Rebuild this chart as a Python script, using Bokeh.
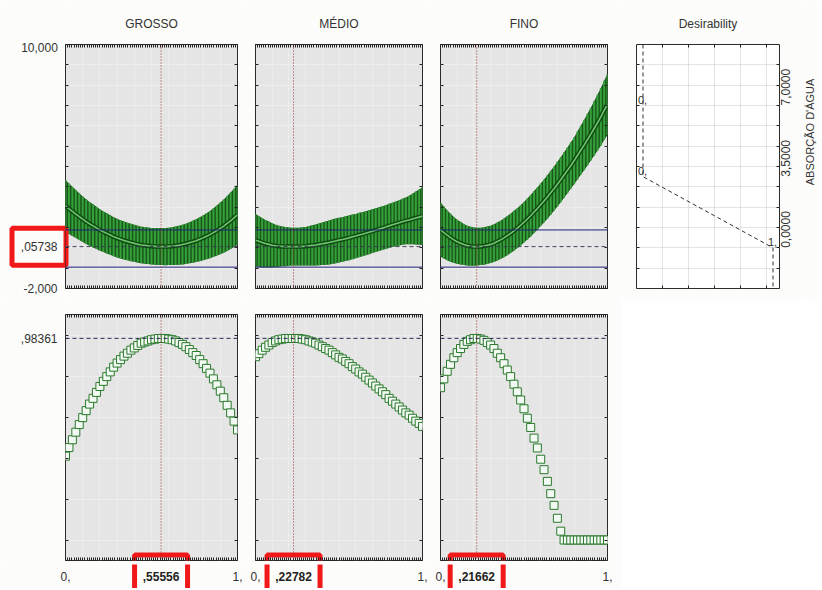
import numpy as np
from bokeh.plotting import figure
from bokeh.layouts import column, row
from bokeh.models import (ColumnDataSource, Range1d, LinearAxis, FixedTicker, Grid, Span, Label, Title)
from bokeh.embed import file_html
from bokeh.resources import INLINE

# ---------------- data ----------------
FACTORS = ["GROSSO", "MÉDIO", "FINO"]
DESIR_TITLE = "Desirability"
RESPONSE_NAME = "ABSORÇÃO D'ÁGUA"

X_LEVELS = [0.00, 0.02, 0.04, 0.06, 0.08, 0.10, 0.12, 0.14, 0.16, 0.18, 0.20,
            0.22, 0.24, 0.26, 0.28, 0.30, 0.32, 0.34, 0.36, 0.38, 0.40,
            0.42, 0.44, 0.46, 0.48, 0.50, 0.52, 0.54, 0.56, 0.58, 0.60,
            0.62, 0.64, 0.66, 0.68, 0.70, 0.72, 0.74, 0.76, 0.78, 0.80,
            0.82, 0.84, 0.86, 0.88, 0.90, 0.92, 0.94, 0.96, 0.98, 1.00]

# predicted ABSORÇÃO D'ÁGUA along each factor
GROSSO_PRED = [2.07, 1.92, 1.79, 1.66, 1.53, 1.41, 1.29, 1.18, 1.08, 0.98, 0.88,
               0.79, 0.71, 0.63, 0.55, 0.48, 0.42, 0.36, 0.31, 0.26, 0.22,
               0.18, 0.14, 0.12, 0.10, 0.08, 0.07, 0.06, 0.06, 0.06, 0.07,
               0.08, 0.10, 0.13, 0.16, 0.20, 0.25, 0.30, 0.35, 0.42, 0.49,
               0.57, 0.65, 0.75, 0.85, 0.96, 1.07, 1.20, 1.33, 1.47, 1.62]
MEDIO_PRED = [0.37, 0.32, 0.26, 0.21, 0.17, 0.13, 0.10, 0.08, 0.07, 0.06, 0.06,
              0.06, 0.06, 0.06, 0.07, 0.08, 0.10, 0.12, 0.14, 0.17, 0.20,
              0.23, 0.26, 0.30, 0.34, 0.38, 0.41, 0.45, 0.49, 0.54, 0.58,
              0.63, 0.67, 0.72, 0.77, 0.82, 0.87, 0.92, 0.97, 1.02, 1.08,
              1.13, 1.18, 1.23, 1.28, 1.33, 1.37, 1.42, 1.47, 1.51, 1.56]
FINO_PRED = [0.90, 0.75, 0.62, 0.50, 0.39, 0.30, 0.23, 0.16, 0.11, 0.08, 0.06,
             0.06, 0.07, 0.09, 0.13, 0.17, 0.23, 0.31, 0.39, 0.49, 0.60,
             0.71, 0.84, 0.97, 1.11, 1.26, 1.42, 1.58, 1.76, 1.93, 2.12,
             2.30, 2.50, 2.71, 2.91, 3.13, 3.35, 3.58, 3.81, 4.04, 4.28,
             4.54, 4.80, 5.05, 5.32, 5.59, 5.87, 6.15, 6.44, 6.76, 7.05]

# half width of the confidence interval
GROSSO_CI = [1.27, 1.24, 1.21, 1.18, 1.15, 1.12, 1.10, 1.08, 1.06, 1.04, 1.02,
             1.00, 0.99, 0.97, 0.96, 0.95, 0.94, 0.93, 0.92, 0.92, 0.91,
             0.91, 0.90, 0.90, 0.90, 0.90, 0.90, 0.91, 0.91, 0.92, 0.92,
             0.93, 0.95, 0.96, 0.98, 0.99, 1.01, 1.03, 1.05, 1.08, 1.10,
             1.13, 1.16, 1.20, 1.23, 1.27, 1.31, 1.35, 1.39, 1.43, 1.47]
MEDIO_CI = [1.29, 1.25, 1.21, 1.16, 1.12, 1.08, 1.04, 1.01, 0.98, 0.96, 0.94,
            0.93, 0.93, 0.93, 0.94, 0.95, 0.97, 0.99, 1.01, 1.03, 1.05,
            1.07, 1.08, 1.09, 1.10, 1.10, 1.10, 1.10, 1.10, 1.10, 1.09,
            1.09, 1.08, 1.08, 1.08, 1.08, 1.08, 1.08, 1.08, 1.08, 1.09,
            1.09, 1.10, 1.11, 1.13, 1.15, 1.19, 1.24, 1.30, 1.36, 1.42]
FINO_CI = [1.33, 1.28, 1.23, 1.18, 1.13, 1.08, 1.05, 1.01, 0.98, 0.96, 0.94,
           0.93, 0.92, 0.92, 0.92, 0.92, 0.93, 0.93, 0.94, 0.95, 0.96,
           0.97, 0.98, 0.98, 0.99, 1.00, 1.01, 1.02, 1.03, 1.04, 1.05,
           1.06, 1.07, 1.08, 1.09, 1.10, 1.11, 1.12, 1.13, 1.14, 1.15,
           1.18, 1.21, 1.24, 1.27, 1.30, 1.34, 1.38, 1.42, 1.46, 1.50]

# overall desirability along each factor
GROSSO_DESIR = [0.409, 0.451, 0.489, 0.526, 0.563, 0.597, 0.631, 0.663, 0.691, 0.720, 0.749,
                0.774, 0.797, 0.820, 0.843, 0.863, 0.880, 0.897, 0.911, 0.926, 0.937,
                0.949, 0.960, 0.966, 0.971, 0.977, 0.980, 0.983, 0.983, 0.983, 0.980,
                0.977, 0.971, 0.963, 0.954, 0.943, 0.929, 0.914, 0.900, 0.880, 0.860,
                0.837, 0.814, 0.786, 0.757, 0.726, 0.694, 0.657, 0.620, 0.580, 0.537]
MEDIO_DESIR = [0.894, 0.909, 0.926, 0.940, 0.951, 0.963, 0.971, 0.977, 0.980, 0.983, 0.983,
               0.983, 0.983, 0.983, 0.980, 0.977, 0.971, 0.966, 0.960, 0.951, 0.943,
               0.934, 0.926, 0.914, 0.903, 0.891, 0.883, 0.871, 0.860, 0.846, 0.834,
               0.820, 0.809, 0.794, 0.780, 0.766, 0.751, 0.737, 0.723, 0.709, 0.691,
               0.677, 0.663, 0.649, 0.634, 0.620, 0.609, 0.594, 0.580, 0.569, 0.554]
FINO_DESIR = [0.743, 0.786, 0.823, 0.857, 0.889, 0.914, 0.934, 0.954, 0.969, 0.977, 0.983,
              0.983, 0.980, 0.974, 0.963, 0.951, 0.934, 0.911, 0.889, 0.860, 0.829,
              0.797, 0.760, 0.723, 0.683, 0.640, 0.594, 0.549, 0.497, 0.449, 0.394,
              0.343, 0.286, 0.226, 0.169, 0.106, 0.043, 0.0, 0.0, 0.0, 0.0,
              0.0, 0.0, 0.0, 0.0, 0.0, 0.0, 0.0, 0.0, 0.0, 0.0]

CURRENT_X = [0.55556, 0.22782, 0.21662]
CURRENT_X_TEXT = [",55556", ",22782", ",21662"]
CURRENT_PRED = 0.05738
CURRENT_PRED_TEXT = ",05738"
CURRENT_CI = [-0.95, 0.88]
CURRENT_DESIR = 0.98361
CURRENT_DESIR_TEXT = ",98361"

# desirability function of the response
DF_RESPONSE = [10.0, 7.0, 3.5, 0.0, -2.0]
DF_DESIR = [0.0, 0.0, 0.0, 1.0, 1.0]
DF_POINT_RESPONSE = [7.0, 3.5, 0.0]
DF_POINT_DESIR = [0.0, 0.0, 1.0]
DF_POINT_TEXT = ["0,", "0,", "1,"]
DF_AXIS_TICKS = [0.0, 3.5, 7.0]
DF_AXIS_TEXT = ["0,0000", "3,5000", "7,0000"]
RESPONSE_LABEL_AT = 5.7

TOP_RANGE = (-2.0, 10.0)
TOP_TICKS = [-2, -1, 0, 1, 2, 3, 4, 5, 6, 7, 8, 9, 10]
TOP_MAX_TEXT = "10,000"
TOP_MIN_TEXT = "-2,000"
BOT_RANGE = (-0.1, 1.1)
BOT_TICKS = [0.0, 0.2, 0.4, 0.6, 0.8, 1.0]
X_END_TEXT = {0.0: "0,", 1.0: "1,"}

# ---------------- style / geometry (pixels) ----------------
FONT = "Liberation Sans"
TXT = "#333333"
PAGE_BG = "#fcfcfa"
PANEL_BG = "#e5e5e5"
TICK = "#222222"
RED = "#f01818"
DENSE = [round(i * 0.0125, 4) for i in range(81)]

TOP_BT, TOP_FH, TOP_BB = 44, 244, 12
BOT_BT, BOT_FH, BOT_BB = 14, 246, 4
STRIP_H = 24
STRIP_TEXT_DOWN = 12
LAB_W = 65
LAB_TICK_TOP = -26   # centre of the "10,000" text, px left of the panel edge
LAB_TICK_BOT = -25
TOP_COLS = [(0, 172, 9), (9, 167, 9), (9, 167, 14)]
BOT_COLS = [(65, 172, 9), (9, 167, 9), (9, 167, 14)]
RIGHT_W = 18
LEFT_BOX = dict(cx=-26.5, w=54, h=37)     # red frame round the predicted value
BOTTOM_BOX = dict(w=53, h=43)             # red frames round the current settings
BOX_LINE = 5

PRED_LISTS = [GROSSO_PRED, MEDIO_PRED, FINO_PRED]
CI_LISTS = [GROSSO_CI, MEDIO_CI, FINO_CI]
DESIR_LISTS = [GROSSO_DESIR, MEDIO_DESIR, FINO_DESIR]


def make_fig(bl, fw, br, bt, fh, bb, xr, yr, bg, outline="#2b2b2b", title=None):
    p = figure(frame_width=fw, frame_height=fh, x_range=Range1d(*xr), y_range=Range1d(*yr),
               min_border_left=bl, min_border_right=br, min_border_top=bt, min_border_bottom=bb,
               x_axis_location=None, y_axis_location=None, toolbar_location=None,
               output_backend="svg", title=None, background_fill_color=bg,
               border_fill_color=PAGE_BG, outline_line_color=outline, outline_line_width=1)
    p.xgrid.visible = False
    p.ygrid.visible = False
    if title:
        p.title = Title(text=title, align="center", text_font=FONT, text_font_size="12px",
                        text_font_style="normal", text_color=TXT, standoff=28)
    return p


def axis(ticks, labels=None, minor=None, standoff=0, tick_in=3, fs="12px", **kw):
    ov = {t: "" for t in ticks}
    if labels:
        ov.update(labels)
    return LinearAxis(ticker=FixedTicker(ticks=ticks, minor_ticks=minor or []),
                      major_label_overrides=ov, major_tick_in=tick_in, major_tick_out=0,
                      minor_tick_in=3, minor_tick_out=0, axis_line_color=None,
                      major_tick_line_color=TICK, minor_tick_line_color=TICK,
                      major_label_standoff=standoff, major_label_text_font=FONT,
                      major_label_text_font_size=fs, major_label_text_color=TXT, **kw)


def text(x, y, t, **kw):
    opts = dict(text_font=FONT, text_font_size="12px", text_color=TXT,
                text_baseline="middle", text_align="center")
    opts.update(kw)
    return Label(x=x, y=y, text=t, **opts)


def red_frame(p, x, y, w, h):
    p.rect(x=[x], y=[y], width=w, height=h, width_units="screen", height_units="screen",
           fill_alpha=0, line_color=RED, line_width=BOX_LINE)


def mesh(p, yticks):
    p.add_layout(Grid(dimension=1, ticker=FixedTicker(ticks=yticks), grid_line_color="#f7f7f7",
                      grid_line_dash="1 1", grid_line_width=1))
    p.add_layout(Grid(dimension=0, ticker=FixedTicker(ticks=[0.1, 0.2, 0.3, 0.4, 0.5, 0.6, 0.7, 0.8, 0.9]),
                      grid_line_color="#f3f3f3", grid_line_dash="1 1", grid_line_width=1))


# ---------- left label column of the top row (x in px left of the panel edge) ----------
lab = make_fig(0, LAB_W, 0, TOP_BT, TOP_FH, TOP_BB, (-LAB_W, 0), TOP_RANGE, PAGE_BG, outline=None)
lab.add_layout(axis([LAB_TICK_TOP], {LAB_TICK_TOP: TOP_MAX_TEXT}, standoff=-7, tick_in=0), "above")
lab.add_layout(axis([LAB_TICK_BOT], {LAB_TICK_BOT: TOP_MIN_TEXT}, standoff=-5, tick_in=0), "below")
lab.add_layout(text(-8, CURRENT_PRED, CURRENT_PRED_TEXT, text_align="right"))
red_frame(lab, LEFT_BOX["cx"], CURRENT_PRED, LEFT_BOX["w"], LEFT_BOX["h"])

top_figs, bot_figs, strips = [lab], [], []
for i, name in enumerate(FACTORS):
    bl, fw, br = TOP_COLS[i]
    # ---------- top: predicted response ----------
    p = make_fig(bl, fw, br, TOP_BT, TOP_FH, TOP_BB, (0, 1), TOP_RANGE, PANEL_BG, title=name)
    mesh(p, TOP_TICKS)
    pred, ci = PRED_LISTS[i], CI_LISTS[i]
    src = ColumnDataSource(dict(x=X_LEVELS, c=pred,
                                lo=[c - h for c, h in zip(pred, ci)],
                                hi=[c + h for c, h in zip(pred, ci)]))
    p.varea(x="x", y1="lo", y2="hi", source=src, fill_color="#18561a")
    p.segment(x0="x", y0="lo", x1="x", y1="hi", source=src, line_color="#36a03a", line_width=2)
    p.line("x", "c", source=src, line_color="#0d4a0f", line_width=4.5)
    p.line("x", "c", source=src, line_color="#6fc46f", line_width=1.6)
    p.add_layout(Span(location=CURRENT_CI[1], dimension="width", line_color="#20207a", line_width=1))
    p.add_layout(Span(location=CURRENT_CI[0], dimension="width", line_color="#20207a", line_width=1))
    p.add_layout(Span(location=CURRENT_PRED, dimension="width", line_color="#3a3a5a",
                      line_dash="4 3", line_width=1))
    p.add_layout(Span(location=CURRENT_X[i], dimension="height", line_color="#9a3434",
                      line_dash="1 2", line_width=1))
    p.add_layout(axis([], minor=DENSE, fs="0px"), "above")
    p.add_layout(axis([], minor=DENSE, fs="0px"), "below")
    p.add_layout(axis(TOP_TICKS, fs="0px"), "left")
    p.add_layout(axis(TOP_TICKS, fs="0px"), "right")
    if i == 0:
        # the part of the red frame that overlaps the panel
        red_frame(p, LEFT_BOX["cx"] / fw, CURRENT_PRED, LEFT_BOX["w"], LEFT_BOX["h"])
    top_figs.append(p)

    # ---------- bottom: desirability ----------
    bl, fw, br = BOT_COLS[i]
    q = make_fig(bl, fw, br, BOT_BT, BOT_FH, BOT_BB, (0, 1), BOT_RANGE, PANEL_BG)
    mesh(q, BOT_TICKS)
    dsrc = ColumnDataSource(dict(x=X_LEVELS, d=DESIR_LISTS[i]))
    q.add_layout(Span(location=CURRENT_DESIR, dimension="width", line_color="#2a2a5a",
                      line_dash="4 3", line_width=1))
    q.add_layout(Span(location=CURRENT_X[i], dimension="height", line_color="#9a3434",
                      line_dash="1 2", line_width=1))
    q.scatter("x", "d", source=dsrc, marker="square", size=8, fill_color="#f2f8f2",
              line_color="#2a7a2c", line_width=1)
    q.add_layout(axis([], minor=DENSE, fs="0px"), "above")
    q.add_layout(axis([], minor=DENSE, fs="0px"), "below")
    if i == 0:
        q.add_layout(axis(BOT_TICKS + [CURRENT_DESIR], {CURRENT_DESIR: CURRENT_DESIR_TEXT},
                          standoff=8), "left")
    else:
        q.add_layout(axis(BOT_TICKS, fs="0px"), "left")
    q.add_layout(axis(BOT_TICKS, fs="0px"), "right")
    # upper part of the red frame (inside the panel)
    units_per_px = (BOT_RANGE[1] - BOT_RANGE[0]) / BOT_FH
    red_frame(q, CURRENT_X[i], BOT_RANGE[0] - (BOT_BB + STRIP_TEXT_DOWN) * units_per_px,
              BOTTOM_BOX["w"], BOTTOM_BOX["h"])
    bot_figs.append(q)

    # ---------- strip under the bottom row: x labels ----------
    total = bl + fw + br
    s = make_fig(0, total, 0, 0, STRIP_H, 0, (-bl / fw, 1 + br / fw), (0, 1), PAGE_BG, outline=None)
    for v, t in X_END_TEXT.items():
        s.add_layout(text(v, 1, t, y_offset=-STRIP_TEXT_DOWN))
    s.add_layout(text(CURRENT_X[i], 1, CURRENT_X_TEXT[i], y_offset=-STRIP_TEXT_DOWN,
                      text_font_style="bold", text_color="#222222"))
    red_frame(s, CURRENT_X[i], 1 - STRIP_TEXT_DOWN / STRIP_H, BOTTOM_BOX["w"], BOTTOM_BOX["h"])
    strips.append(s)

# ---------- desirability function panel ----------
d = make_fig(15, 143, 21, TOP_BT, TOP_FH, TOP_BB, (-0.05, 1.05), TOP_RANGE, "#ffffff",
             title=DESIR_TITLE)
DX_GRID = [0.15, 0.35, 0.55, 0.75, 0.95]
DY_GRID = [-1, 0, 1, 2, 3, 4, 5, 6, 7, 8, 9]
d.add_layout(Grid(dimension=0, ticker=FixedTicker(ticks=DX_GRID), grid_line_color="#c8c8c8",
                  grid_line_dash="1 1"))
d.add_layout(Grid(dimension=1, ticker=FixedTicker(ticks=DY_GRID), grid_line_color="#c8c8c8",
                  grid_line_dash="1 1"))
d.line(DF_DESIR, DF_RESPONSE, line_color="#333333", line_dash="4 3", line_width=1)
for dx, dy, t in zip(DF_POINT_DESIR, DF_POINT_RESPONSE, DF_POINT_TEXT):
    d.add_layout(text(dx, dy, t, x_offset=-5, y_offset=2, text_align="left",
                      text_baseline="bottom", text_font_size="11px"))
d.add_layout(axis([], minor=DX_GRID, fs="0px"), "above")
d.add_layout(axis([], minor=DX_GRID, fs="0px"), "below")
d.add_layout(axis([], minor=DY_GRID, fs="0px"), "left")
d.add_layout(axis(DF_AXIS_TICKS, dict(zip(DF_AXIS_TICKS, DF_AXIS_TEXT)), minor=DY_GRID,
                  standoff=6, tick_in=0, major_label_orientation=np.pi / 2), "right")
top_figs.append(d)

# ---------- right column: response name ----------
e = make_fig(0, RIGHT_W, 0, TOP_BT, TOP_FH, TOP_BB, (0, 1), TOP_RANGE, PAGE_BG, outline=None)
e.add_layout(text(0.5, RESPONSE_LABEL_AT, RESPONSE_NAME, angle=np.pi / 2, text_font_size="11px"))
top_figs.append(e)

layout = column(row(*top_figs), row(*bot_figs), row(*strips))
open("out.html", "w").write(file_html(layout, INLINE, title="Desirability profile"))
